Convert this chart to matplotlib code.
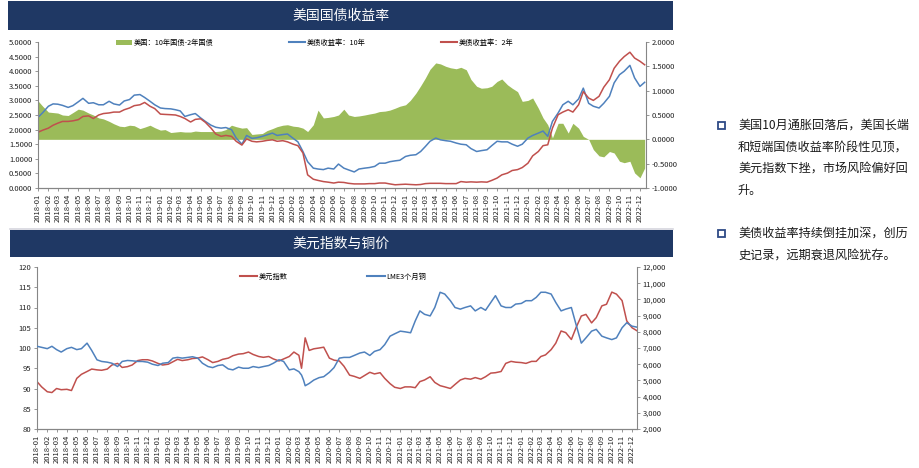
import matplotlib
matplotlib.use("Agg")
import matplotlib.pyplot as plt
import matplotlib.dates as mdates
from matplotlib.patches import Rectangle, Patch
from matplotlib.lines import Line2D
from matplotlib.ticker import MultipleLocator, FormatStrFormatter, FuncFormatter
import pandas as pd

plt.rcParams["font.family"] = ["Noto Sans CJK SC", "DejaVu Sans"]

NAVY = "#1f3864"
BLUE = "#4f81bd"
RED = "#c0504d"
GREEN = "#9bbb59"
AXIS_GRAY = "#868686"

# ---------------- data: US treasury yields (1st and 15th of each month) ----------------
yield_dates = pd.date_range("2018-01-01", periods=120, freq="SMS")

ust10 = [
    2.42, 2.58, 2.80, 2.88, 2.87, 2.83, 2.76, 2.82, 2.95, 3.07, 2.90, 2.92,
    2.85, 2.85, 2.97, 2.88, 2.84, 2.98, 3.03, 3.18, 3.20, 3.10, 2.97, 2.85,   # 2018
    2.74, 2.72, 2.71, 2.68, 2.64, 2.45, 2.51, 2.55, 2.40, 2.28, 2.15, 2.08,
    2.05, 2.07, 2.00, 1.71, 1.50, 1.80, 1.70, 1.72, 1.77, 1.82, 1.88, 1.80,   # 2019
    1.83, 1.85, 1.70, 1.58, 1.25, 0.90, 0.68, 0.65, 0.63, 0.68, 0.65, 0.82,
    0.68, 0.62, 0.55, 0.65, 0.68, 0.70, 0.74, 0.85, 0.85, 0.90, 0.93, 0.95,   # 2020
    1.08, 1.12, 1.14, 1.25, 1.42, 1.60, 1.71, 1.65, 1.62, 1.60, 1.54, 1.50,
    1.48, 1.35, 1.25, 1.28, 1.31, 1.45, 1.60, 1.58, 1.58, 1.50, 1.43, 1.50,   # 2021
    1.71, 1.80, 1.88, 1.95, 1.77, 2.28, 2.57, 2.85, 2.97, 2.85, 3.05, 3.42,
    2.90, 2.80, 2.74, 2.90, 3.14, 3.60, 3.88, 4.00, 4.20, 3.77, 3.48, 3.62,   # 2022
]
ust2 = [
    1.91, 1.98, 2.05, 2.15, 2.22, 2.28, 2.28, 2.30, 2.34, 2.45, 2.47, 2.38,
    2.50, 2.55, 2.57, 2.60, 2.60, 2.68, 2.74, 2.82, 2.85, 2.93, 2.80, 2.72,
    2.53, 2.52, 2.51, 2.50, 2.45, 2.38, 2.26, 2.35, 2.37, 2.25, 2.05, 1.85,
    1.77, 1.80, 1.77, 1.60, 1.47, 1.68, 1.60, 1.58, 1.60, 1.63, 1.65, 1.60,
    1.62, 1.58, 1.50, 1.45, 1.20, 0.45, 0.30, 0.26, 0.22, 0.20, 0.17, 0.20,
    0.19, 0.16, 0.14, 0.14, 0.14, 0.15, 0.15, 0.17, 0.17, 0.14, 0.11, 0.12,
    0.13, 0.12, 0.11, 0.12, 0.15, 0.16, 0.16, 0.16, 0.15, 0.15, 0.15, 0.22,
    0.20, 0.21, 0.20, 0.21, 0.20, 0.26, 0.34, 0.45, 0.51, 0.60, 0.63, 0.70,
    0.85, 1.10, 1.25, 1.45, 1.48, 2.05, 2.51, 2.60, 2.68, 2.60, 2.85, 3.30,
    3.08, 3.00, 3.14, 3.45, 3.71, 4.10, 4.34, 4.50, 4.65, 4.45, 4.34, 4.22,
]
spread_10_2 = [
    0.79, 0.68, 0.56, 0.55, 0.54, 0.50, 0.49, 0.55, 0.62, 0.60, 0.54, 0.50,
    0.44, 0.42, 0.37, 0.32, 0.27, 0.26, 0.29, 0.28, 0.22, 0.25, 0.29, 0.24,
    0.19, 0.20, 0.14, 0.15, 0.16, 0.15, 0.15, 0.17, 0.16, 0.16, 0.16, 0.16,
    0.17, 0.20, 0.29, 0.26, 0.23, 0.24, 0.10, 0.11, 0.12, 0.18, 0.22, 0.26,
    0.29, 0.30, 0.27, 0.26, 0.23, 0.16, 0.30, 0.60, 0.44, 0.45, 0.47, 0.50,
    0.62, 0.50, 0.47, 0.48, 0.50, 0.52, 0.54, 0.57, 0.58, 0.60, 0.64, 0.68,
    0.71, 0.80, 0.95, 1.10, 1.26, 1.44, 1.57, 1.55, 1.50, 1.47, 1.45, 1.48,
    1.43, 1.23, 1.09, 1.05, 1.06, 1.09, 1.19, 1.24, 1.12, 1.05, 0.98, 0.78,
    0.80, 0.85, 0.64, 0.44, 0.30, 0.03, 0.33, 0.33, 0.13, 0.33, 0.23, 0.06,
    0.00, -0.21, -0.34, -0.36, -0.25, -0.28, -0.45, -0.48, -0.45, -0.69, -0.79, -0.59,
]

# ---------------- data: dollar index and LME copper ----------------
fx_dates = sorted(list(pd.date_range("2018-01-01", periods=120, freq="SMS"))
                  + [pd.Timestamp("2020-03-09"), pd.Timestamp("2020-03-20")])

dxy = [
    91.7, 90.4, 89.2, 89.0, 90.0, 89.7, 89.8, 89.5, 92.5, 93.5, 94.2, 94.8,
    94.6, 94.5, 94.8, 95.8, 96.2, 95.2, 95.4, 95.8, 96.9, 97.1, 97.1, 96.8,   # 2018
    96.2, 95.8, 96.0, 96.6, 97.2, 96.9, 97.1, 97.4, 97.5, 97.8, 97.1, 96.4,
    96.7, 97.2, 97.5, 98.1, 98.5, 98.6, 99.0, 98.4, 97.9, 97.7, 97.9, 97.3,   # 2019
    96.8, 97.3, 97.9, 99.0, 98.2, 95.0, 99.0, 102.5, 99.4, 99.8, 100.0, 100.2,
    97.5, 97.0, 96.8, 95.5, 93.3, 93.0, 92.5, 93.2, 94.0, 93.6, 93.9, 92.5,
    91.2, 90.3,                                                               # 2020
    90.0, 90.4, 90.4, 90.2, 91.7, 92.1, 92.9, 91.5, 90.7, 90.4, 90.0, 91.0,
    92.1, 92.5, 92.3, 92.7, 92.3, 92.9, 93.8, 93.9, 94.2, 96.2, 96.7, 96.5,   # 2021
    96.4, 96.2, 96.7, 96.7, 97.9, 98.3, 99.6, 101.2, 104.2, 103.8, 102.1, 105.0,
    107.9, 108.3, 106.2, 107.5, 110.4, 110.8, 113.8, 113.3, 111.7, 106.7, 105.0, 104.3,  # 2022
]
copper = [
    7105, 7040, 6960, 7105, 6900, 6750, 6960, 7040, 6900, 6960, 7300, 6850,
    6270, 6170, 6125, 6060, 5855, 6170, 6230, 6210, 6170, 6170, 6125, 6000,
    5920, 6060, 6100, 6375, 6420, 6375, 6420, 6460, 6375, 6060, 5855, 5790,
    5920, 5960, 5710, 5650, 5820, 5750, 5750, 5855, 5790, 5855, 5920, 6060,
    6270, 6170, 5650, 5710, 5540, 5330, 5020, 4670, 4810, 5020, 5170, 5230,
    5500, 5790, 6375, 6420, 6420, 6540, 6690, 6750, 6540, 6790, 6900, 7210,
    7730, 7875,
    8040, 8000, 7940, 8670, 9290, 9080, 8980, 9500, 10440, 10330, 9920, 9500,
    9400, 9500, 9600, 9290, 9500, 9330, 9810, 10230, 9600, 9500, 9500, 9710,
    9750, 9920, 9920, 10125, 10440, 10440, 10330, 9810, 9290, 9400, 9500, 8460,
    7300, 7625, 8040, 8150, 7730, 7625, 7520, 7625, 8250, 8560, 8350, 8290,
]

notes_1 = ["美国10月通胀回落后，美国长端", "和短端国债收益率阶段性见顶，",
           "美元指数下挫，市场风险偏好回", "升。"]
notes_2 = ["美债收益率持续倒挂加深，创历", "史记录，远期衰退风险犹存。"]

W, H = 919, 468


def fx(px):
    return px / W


def fy(py):
    return 1 - py / H


def style_axes(ax, right=False):
    ax.spines["top"].set_visible(False)
    for s in ("left", "right", "bottom"):
        ax.spines[s].set_color(AXIS_GRAY)
        ax.spines[s].set_linewidth(0.8)
    ax.tick_params(axis="both", direction="out", length=2.5, width=0.6,
                   color=AXIS_GRAY, labelsize=5.5, pad=1.5, labelcolor="#222222")


def date_axis(ax, end):
    ax.set_xlim(pd.Timestamp("2018-01-01"), pd.Timestamp(end))
    ax.xaxis.set_major_locator(mdates.MonthLocator())
    ax.xaxis.set_major_formatter(mdates.DateFormatter("%Y-%m"))
    for lbl in ax.get_xticklabels():
        lbl.set_rotation(90)
        lbl.set_fontsize(5.5)


fig = plt.figure(figsize=(W / 100, H / 100), dpi=100)

# header bars
fig.add_artist(Rectangle((fx(8), fy(30)), fx(665), 29 / H, transform=fig.transFigure,
                         facecolor=NAVY, edgecolor="none"))
fig.text(fx(341), fy(15.5), "美国国债收益率", color="white", fontsize=10,
         ha="center", va="center")
fig.add_artist(Line2D([fx(10), fx(673)], [fy(229), fy(229)], color="#d6d6de", lw=1.2))
fig.add_artist(Rectangle((fx(10), fy(257)), fx(663), 27 / H, transform=fig.transFigure,
                         facecolor=NAVY, edgecolor="none"))
fig.text(fx(341), fy(243.5), "美元指数与铜价", color="white", fontsize=10,
         ha="center", va="center")

# ---------------- top chart ----------------
ax1 = fig.add_axes([fx(38), fy(188), fx(608), 146 / H])
ax1r = ax1.twinx()
ax1.set_zorder(ax1r.get_zorder() + 1)
ax1.patch.set_visible(False)

ax1r.fill_between(yield_dates, 0, spread_10_2, color=GREEN, lw=0)
ax1.plot(yield_dates, ust10, color=BLUE, lw=1.1)
ax1.plot(yield_dates, ust2, color=RED, lw=1.1)

ax1.set_ylim(0, 5)
ax1.yaxis.set_major_locator(MultipleLocator(0.5))
ax1.yaxis.set_major_formatter(FormatStrFormatter("%.4f"))
ax1r.set_ylim(-1, 2)
ax1r.yaxis.set_major_locator(MultipleLocator(0.5))
ax1r.yaxis.set_major_formatter(FormatStrFormatter("%.4f"))
style_axes(ax1)
style_axes(ax1r)
ax1.spines["right"].set_visible(False)
ax1r.spines["left"].set_visible(False)
date_axis(ax1, "2022-12-19")

fig.legend([Patch(facecolor=GREEN, edgecolor="none"),
            Line2D([], [], color=BLUE, lw=1.5),
            Line2D([], [], color=RED, lw=1.5)],
           ["美国：10年国债-2年国债", "美债收益率：10年", "美债收益率：2年"],
           loc="center left", bbox_to_anchor=(fx(116), fy(43)), ncol=3, frameon=False,
           fontsize=5.2, handlelength=2.2, handletextpad=0.2, columnspacing=10.5,
           borderpad=0, borderaxespad=0)

# ---------------- bottom chart ----------------
ax2 = fig.add_axes([fx(37), fy(429), fx(600), 162 / H])
ax2r = ax2.twinx()
ax2.plot(fx_dates, dxy, color=RED, lw=1.1)
ax2r.plot(fx_dates, copper, color=BLUE, lw=1.1)

ax2.set_ylim(80, 120)
ax2.yaxis.set_major_locator(MultipleLocator(5))
ax2r.set_ylim(2000, 12000)
ax2r.yaxis.set_major_locator(MultipleLocator(1000))
ax2r.yaxis.set_major_formatter(FuncFormatter(lambda v, p: f"{v:,.0f}"))
style_axes(ax2)
style_axes(ax2r)
ax2.spines["right"].set_visible(False)
ax2r.spines["left"].set_visible(False)
date_axis(ax2, "2022-12-16")

fig.legend([Line2D([], [], color=RED, lw=1.5), Line2D([], [], color=BLUE, lw=1.5)],
           ["美元指数", "LME3个月铜"],
           loc="center left", bbox_to_anchor=(fx(240), fy(277)), ncol=2, frameon=False,
           fontsize=5.2, handlelength=2.4, handletextpad=0.2, columnspacing=11,
           borderpad=0, borderaxespad=0)

# ---------------- commentary ----------------
for y0, lines in ((125, notes_1), (233.3, notes_2)):
    fig.add_artist(Rectangle((fx(717.5), fy(y0 + 3.5)), 7 / W, 7 / H,
                             transform=fig.transFigure, facecolor="white",
                             edgecolor="#2e4a86", lw=1.3))
    for i, line in enumerate(lines):
        fig.text(fx(738), fy(y0 + i * 21.7), line, fontsize=8.7, color="#1a1a1a",
                 ha="left", va="center")

fig.savefig("out.png", dpi=100)
